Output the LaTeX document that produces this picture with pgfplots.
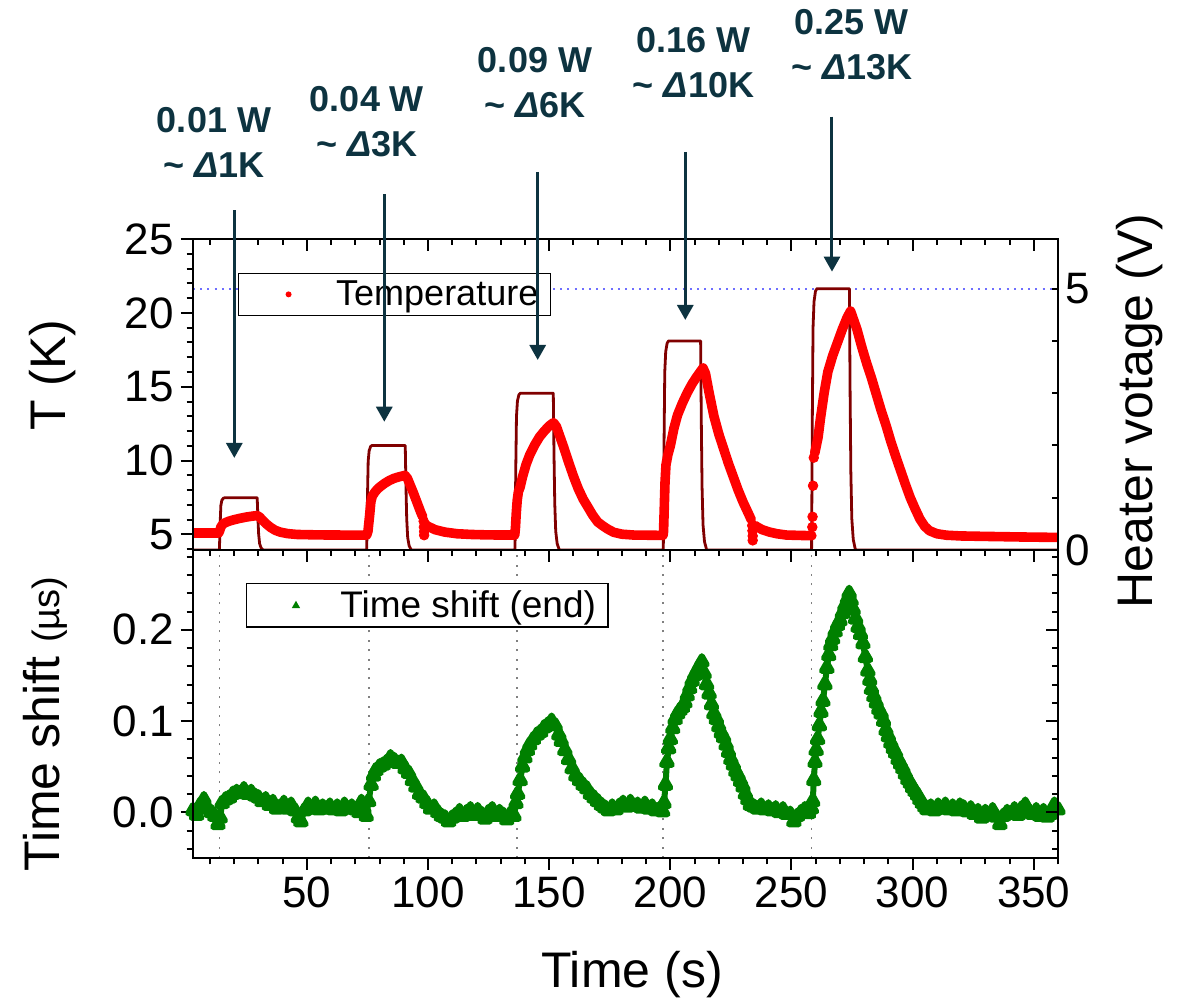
\documentclass[border=0pt]{standalone}
\usepackage{fontspec}
\setmainfont{Liberation Sans}
\usepackage{pgfplots}
\pgfplotsset{compat=1.18}
\usetikzlibrary{arrows.meta}

\definecolor{heat}{RGB}{128,0,0}
\definecolor{tsgreen}{RGB}{0,128,0}
\definecolor{annot}{RGB}{13,51,64}
\definecolor{vblue}{RGB}{110,110,255}

\pgfplotsset{
  panel/.style={
    scale only axis, width=432.5pt,
    xmin=3, xmax=360,
    axis line style={line width=1pt},
    tick style={black, line width=1pt},
    major tick length=6pt, minor tick length=3.2pt,
    tick label style={font=\fontsize{22}{24}\selectfont},
    label style={font=\fontsize{25}{28}\selectfont},
    /pgf/number format/assume math mode=true,
  },
  xgrid/.style={xtick={50,100,...,350},
    minor xtick={10,20,30,40,60,70,80,90,110,120,130,140,160,170,180,190,
      210,220,230,240,260,270,280,290,310,320,330,340,360}},
  tgrid/.style={ymin=3.95, ymax=25},
  sgrid/.style={ymin=-0.05, ymax=0.2875, ytick={0,0.1,0.2},
    minor ytick={-0.04,-0.02,0.02,0.04,0.06,0.08,0.12,0.14,0.16,0.18,
      0.22,0.24,0.26,0.28}},
}

\begin{document}
\begin{tikzpicture}

% ---------- bottom panel: time shift ----------
\begin{axis}[panel, xgrid, sgrid, at={(0pt,0pt)}, anchor=south west, height=154pt,
  tick align=outside, xtick pos=left, ytick pos=left,
  yticklabels={0.0,0.1,0.2},
  xlabel={Time (s)},
  xlabel style={at={(rel axis cs:0.5075,-0.38)}, anchor=center},
  ylabel={Time shift {\fontsize{19}{20}\selectfont(µs)}},
  ylabel style={at={(rel axis cs:-0.171,0.435)}, anchor=center},
  legend style={at={(rel axis cs:0.061,0.894)}, anchor=north west,
    draw=black, line width=0.6pt, inner xsep=0pt, inner ysep=1pt,
    font=\fontsize{18.5}{20}\selectfont, nodes={inner xsep=6pt, inner ysep=2.5pt}},
  legend cell align=left,
]
  \addplot[gray, line width=0.9pt, dash pattern=on 1pt off 3.7pt, forget plot]
    coordinates {(13.9,-0.05) (13.9,0.2875)};
  \addplot[gray, line width=0.9pt, dash pattern=on 1pt off 3.7pt, forget plot]
    coordinates {(75.5,-0.05) (75.5,0.2875)};
  \addplot[gray, line width=0.9pt, dash pattern=on 1pt off 3.7pt, forget plot]
    coordinates {(136.6,-0.05) (136.6,0.2875)};
  \addplot[gray, line width=0.9pt, dash pattern=on 1pt off 3.7pt, forget plot]
    coordinates {(197.1,-0.05) (197.1,0.2875)};
  \addplot[gray, line width=0.9pt, dash pattern=on 1pt off 3.7pt, forget plot]
    coordinates {(258.3,-0.05) (258.3,0.2875)};

  \addplot[tsgreen, line width=3pt, line join=round, mark=triangle*, mark size=2.8pt,
    mark options={solid},
    legend image code/.code={\path (0pt,0pt) (38pt,0pt);
      \fill[tsgreen, draw=none] (23.3pt,2.2pt) -- (21.2pt,-1.5pt) -- (25.4pt,-1.5pt) -- cycle;}]
  coordinates {
    (3,0.002)(4.5,-0.003)(6,0.008)(7.5,0.014)(9,0.004)(10.5,0.0)(12,-0.004)
    (13.3,-0.013)(14.2,-0.006)(15,0.01)(16.5,0.014)(18,0.016)(19.5,0.02)(21,0.022)
    (22.5,0.021)(24,0.025)(25.5,0.02)(27,0.022)(28.5,0.018)(30,0.016)(31.5,0.012)
    (33,0.014)(34.5,0.008)(36,0.011)(37.5,0.004)(39,0.006)(40.5,0.01)(42,0.004)
    (43.5,0.008)(45,0.002)(46.5,-0.006)(47.5,-0.01)(49,0.002)(50.5,0.008)(52,0.004)
    (53.5,0.009)(55,0.003)(56.5,0.006)(58,0.004)(59.5,0.007)(61,0.003)(62.5,0.006)
    (64,0.002)(65.5,0.008)(67,0.004)(68.5,0.006)(70,0.003)(71.5,0.0)(72.5,0.011)
    (73.5,0.004)(74.5,-0.004)
    (75.5,0.012)(76.5,0.03)(77.5,0.04)(78.5,0.046)(80,0.05)(81.5,0.052)(83,0.055)
    (84.5,0.06)(86,0.057)(87.5,0.054)(89,0.055)(90.5,0.048)(92,0.043)(93.5,0.035)
    (95,0.028)(96.5,0.02)(98,0.016)(99.5,0.01)(101,0.004)(102.5,0.006)(104,0.0)
    (105.5,-0.004)(107,-0.006)(108.5,-0.01)(110,-0.006)(111.5,-0.003)(113,0.001)
    (114.5,-0.004)(116,0.0)(117.5,0.003)(119,-0.003)(120.5,0.002)(122,-0.002)
    (123.5,-0.007)(125,0.0)(126.5,0.003)(128,-0.004)(129.5,0.0)(131,-0.003)
    (132.5,-0.008)(134,-0.002)(135.5,-0.004)
    (136.3,0.01)(137,0.02)(138,0.035)(139,0.05)(140,0.06)(141,0.068)(142,0.074)
    (143.5,0.08)(145,0.085)(146.5,0.088)(148,0.093)(149.5,0.096)(151,0.1)
    (152.5,0.095)(154,0.085)(155,0.078)(156.5,0.068)(158,0.058)(159.5,0.048)
    (161,0.04)(162.5,0.035)(164,0.03)(165.5,0.026)(167,0.02)(168.5,0.016)(170,0.012)
    (171.5,0.008)(173,0.005)(174.5,0.002)(176,0.006)(177.5,0.003)(179,0.007)
    (180.5,0.01)(182,0.006)(183.5,0.011)(185,0.007)(186.5,0.008)(188,0.005)
    (189.5,0.009)(191,0.004)(192.5,0.006)(194,0.002)(195.5,0.003)(196.8,0.001)
    (197.4,0.01)(198,0.03)(198.6,0.055)(199.3,0.07)(200,0.08)(201,0.092)(202,0.102)
    (203,0.108)(204,0.112)(205,0.115)(206,0.12)(207,0.128)(208,0.136)(209,0.144)
    (210,0.15)(211,0.155)(212,0.16)(213,0.165)(214,0.152)(215,0.14)(216,0.13)
    (217,0.118)(218,0.108)(219,0.102)(220,0.094)(221,0.087)(222,0.082)(223,0.074)
    (224,0.066)(225,0.058)(226,0.052)(227,0.045)(228,0.04)(229,0.034)(230,0.028)
    (231,0.02)(232,0.014)(233,0.008)(234.5,0.006)(236,0.004)(237.5,0.007)(239,0.003)
    (240.5,0.005)(242,0.002)(243.5,0.004)(245,0.0)(246.5,0.003)(248,-0.002)
    (249.5,-0.002)(251,-0.01)(252.5,-0.004)(254,0.0)(255.5,0.003)(257,-0.001)
    (258.2,0.004)
    (258.8,0.012)(259.2,0.035)(259.7,0.055)(260.2,0.068)(260.8,0.08)(261.5,0.095)
    (262.2,0.11)(263,0.122)(263.8,0.14)(264.6,0.158)(265.4,0.172)(266.2,0.183)
    (267,0.19)(268,0.198)(269,0.205)(270,0.21)(271,0.218)(272,0.226)(273,0.233)
    (273.8,0.24)(274.6,0.232)(275.5,0.222)(276.5,0.212)(277.5,0.203)(278.5,0.195)
    (279.5,0.185)(280.5,0.17)(281.5,0.155)(282.3,0.145)(283,0.135)(284,0.127)
    (285,0.12)(286,0.113)(287,0.108)(288,0.1)(289,0.09)(290,0.083)(291,0.076)
    (292,0.07)(293,0.065)(294,0.058)(295,0.053)(296,0.048)(297,0.042)(298,0.036)
    (299,0.032)(300,0.027)(301,0.023)(302,0.019)(303,0.014)(304,0.01)(305,0.006)
    (306,0.003)(307.5,0.006)(309,0.002)(310.5,0.007)(312,0.004)(313.5,0.008)
    (315,0.003)(316.5,0.006)(318,0.002)(319.5,0.007)(321,0.005)(322.5,0.001)
    (324,0.004)(325.5,-0.002)(327,0.001)(328.5,-0.006)(330,0.0)(331.5,-0.003)
    (333,0.002)(334.5,-0.005)(336,-0.013)(337.5,-0.004)(339,0.0)(340.5,-0.002)
    (342,0.003)(343.5,-0.003)(345,0.004)(346.5,0.008)(348,0.001)(349.5,-0.002)
    (351,0.002)(352.5,-0.004)(354,0.001)(355.5,-0.005)(357,-0.002)(358.5,0.008)
    (360,0.003)
  };
  \addlegendentry{Time shift (end)}
\end{axis}

% mirrored ticks, bottom panel
\begin{axis}[panel, xgrid, sgrid, at={(0pt,0pt)}, anchor=south west, height=154pt,
  tick align=inside, xtick pos=right, ytick pos=right,
  xticklabel=\empty, yticklabel=\empty]
\end{axis}

% ---------- top panel: heater voltage (right axis) ----------
\begin{axis}[panel, at={(0pt,154pt)}, anchor=south west, height=155.5pt,
  ymin=0, ymax=5.95, axis x line=none, axis y line*=right,
  ytick={0,1,2,3,4,5}, yticklabels={0,,,,,5},
  tick align=inside, major tick length=3pt,
  ylabel={Heater votage (V)},
  ylabel style={at={(rel axis cs:1.0948,0.447)}, anchor=center},
]
  \addplot[vblue, line width=0.9pt, dash pattern=on 1pt off 2.6pt, forget plot]
    coordinates {(3,5) (360,5)};
  \addplot[heat, line width=1.4pt, line join=round] coordinates {
    (3,0)(13.9,0)(14.2,0.5)(14.5,0.85)(14.9,0.95)(15.5,0.99)(16.1,1)
    (29.5,1)(29.8,0.6)(30.1,0.3)(30.5,0.12)(31.1,0.04)(32,0)
    (74.7,0)(75.0,1.0)(75.3,1.7)(75.7,1.9)(76.3,1.98)(76.9,2)
    (90.6,2)(90.9,1.2)(91.2,0.6)(91.6,0.24)(92.2,0.08)(93.1,0)
    (135.9,0)(136.2,1.5)(136.5,2.55)(136.9,2.85)(137.5,2.97)(138.1,3)
    (151.7,3)(152.0,1.8)(152.3,0.9)(152.7,0.36)(153.3,0.12)(154.2,0)
    (197.1,0)(197.4,2.0)(197.7,3.4)(198.1,3.8)(198.7,3.96)(199.3,4)
    (212.5,4)(212.8,2.4)(213.1,1.2)(213.5,0.48)(214.1,0.16)(215.0,0)
    (258.3,0)(258.6,2.5)(258.9,4.25)(259.3,4.75)(259.9,4.95)(260.5,5)
    (273.9,5)(274.2,3.0)(274.5,1.5)(274.9,0.6)(275.5,0.2)(276.4,0)
    (360,0)
  };
\end{axis}

% ---------- top panel: temperature ----------
\begin{axis}[panel, tgrid, at={(0pt,154pt)}, anchor=south west, height=155.5pt,
  ytick={5,10,15,20,25},
  minor ytick={4,6,7,8,9,11,12,13,14,16,17,18,19,21,22,23,24},
  xtick=\empty, ytick pos=left, tick align=outside,
  unbounded coords=jump,
  ylabel={T (K)},
  ylabel style={at={(rel axis cs:-0.1618,0.563)}, anchor=center},
  legend style={at={(rel axis cs:0.052,0.891)}, anchor=north west,
    draw=black, line width=0.6pt, inner xsep=0pt, inner ysep=1pt,
    font=\fontsize{18}{20}\selectfont, nodes={inner xsep=6pt, inner ysep=2.5pt}},
  legend cell align=left,
]
  \addplot[red, line width=4.8pt, line join=round, line cap=round,
    legend image code/.code={\path (0pt,0pt) (38pt,0pt);
      \fill[red, draw=none] (22.6pt,0pt) circle (1.5pt);}]
  coordinates {
    (3,5.1)(6,5.1)(9,5.1)(12,5.1)(13.6,5.1)(14.0,5.25)(14.5,5.5)(15.2,5.68)(16,5.77)
    (17.5,5.88)(19.5,5.98)(22,6.08)(25,6.18)(27.5,6.24)(29.5,6.28)(30.5,6.18)
    (31.5,6.0)(33,5.75)(35,5.48)(37,5.28)(39,5.16)(42,5.06)(46,5.0)(55,4.97)
    (65,4.96)(74.7,4.96)
    (75.2,5.2)(75.9,6.3)(76.4,7.2)(77,7.6)(78,7.85)(79,8.05)(80,8.2)(82,8.45)
    (84,8.65)(86,8.8)(88,8.9)(90.5,9.0)(91.5,8.8)(92.5,8.4)(94,7.8)(95.5,7.15)
    (97,6.5)(97.8,6.2)(98,nan)
    (98.6,5.72)(100,5.55)(103,5.32)(107,5.16)(112,5.05)(118,5.0)(125,4.97)
    (135.8,4.96)(136.1,5.5)(136.4,6.4)(136.8,7.3)(137.3,7.9)(138,8.2)(139,8.9)
    (140.5,9.75)(142,10.4)(144,11.05)(146,11.6)(148,12.0)(150,12.35)(151.8,12.57)
    (153,12.3)(154.5,11.6)(156,10.9)(158,9.9)(160,8.95)(162,8.1)(164,7.4)
    (166,6.85)(168,6.3)(170,5.85)(172,5.6)(174,5.38)(176.6,5.15)(180,5.02)
    (185,4.96)(197.0,4.94)
    (197.2,5.2)(197.5,6.8)(197.8,8.5)(198.2,9.7)(199,10.4)(200,11.0)(201.5,12.2)
    (203,13.1)(205,13.9)(207,14.6)(209,15.2)(211,15.7)(213.5,16.27)(214.5,15.9)
    (216,14.6)(218,13.0)(220,11.8)(222,10.8)(224,9.8)(226,8.9)(228,8.0)(230,7.2)
    (232,6.5)(233.4,6.0)(234,nan)
    (235,5.6)(236.5,5.45)(238,5.32)(241,5.16)(244,5.05)(248,4.96)(255,4.93)
    (258.4,4.92)(258.5,nan)
    (259.6,10.5)(260,10.8)(261,11.6)(262,12.9)(263.5,14.6)(265,16.0)(267,17.1)
    (269,18.0)(271,18.9)(273,19.7)(274.4,20.12)(275.5,19.6)(277,18.9)(279,17.7)
    (281,16.6)(283,15.6)(285,14.5)(287,13.4)(289,12.4)(291,11.3)(293,10.3)
    (295,9.35)(297,8.4)(299,7.5)(301,6.75)(303,6.05)(305,5.55)(307,5.25)
    (310,5.05)(314,4.95)(320,4.9)(330,4.87)(345,4.83)(360,4.8)
  };
  \addlegendentry{Temperature}
  \addplot[only marks, mark=*, mark size=2.4pt, red, forget plot] coordinates {
    (98.2,5.9)(98.3,5.5)(98.4,5.2)(98.4,4.95)
    (233.8,5.6)(233.9,5.25)(234.0,4.9)(234.0,4.6)
    (258.6,5.5)(258.7,6.2)(258.9,8.3)(259.2,10.2)
  };
\end{axis}

% mirrored top ticks and annotations
\begin{axis}[panel, xgrid, tgrid, at={(0pt,154pt)}, anchor=south west, height=155.5pt,
  ytick=\empty, xtick pos=right, tick align=inside, xticklabel=\empty, clip=false]
  \begin{scope}[annot, line width=1.5pt, -{Triangle[width=8pt,length=7.5pt]}]
    \draw (axis cs:20.05,26.96) -- (axis cs:20.05,10.18);
    \draw (axis cs:81.95,28.04) -- (axis cs:81.95,12.63);
    \draw (axis cs:145.26,29.55) -- (axis cs:145.26,16.81);
    \draw (axis cs:206.18,30.89) -- (axis cs:206.18,19.52);
    \draw (axis cs:266.72,33.28) -- (axis cs:266.72,22.79);
  \end{scope}
  \begin{scope}[every node/.style={annot, align=center,
      font=\fontsize{18}{22.5}\selectfont\bfseries}]
    \node at (axis cs:11.67,31.56) {0.01 W\\\textasciitilde\ \textit{Δ}1K};
    \node at (axis cs:74.81,32.95) {0.04 W\\\textasciitilde\ \textit{Δ}3K};
    \node at (axis cs:144.15,35.59) {0.09 W\\\textasciitilde\ \textit{Δ}6K};
    \node at (axis cs:209.6,36.94) {0.16 W\\\textasciitilde\ \textit{Δ}10K};
    \node at (axis cs:274.85,38.16) {0.25 W\\\textasciitilde\ \textit{Δ}13K};
  \end{scope}
\end{axis}

\path (-96.5pt,-72pt) rectangle (498pt,429pt);
\end{tikzpicture}
\end{document}
